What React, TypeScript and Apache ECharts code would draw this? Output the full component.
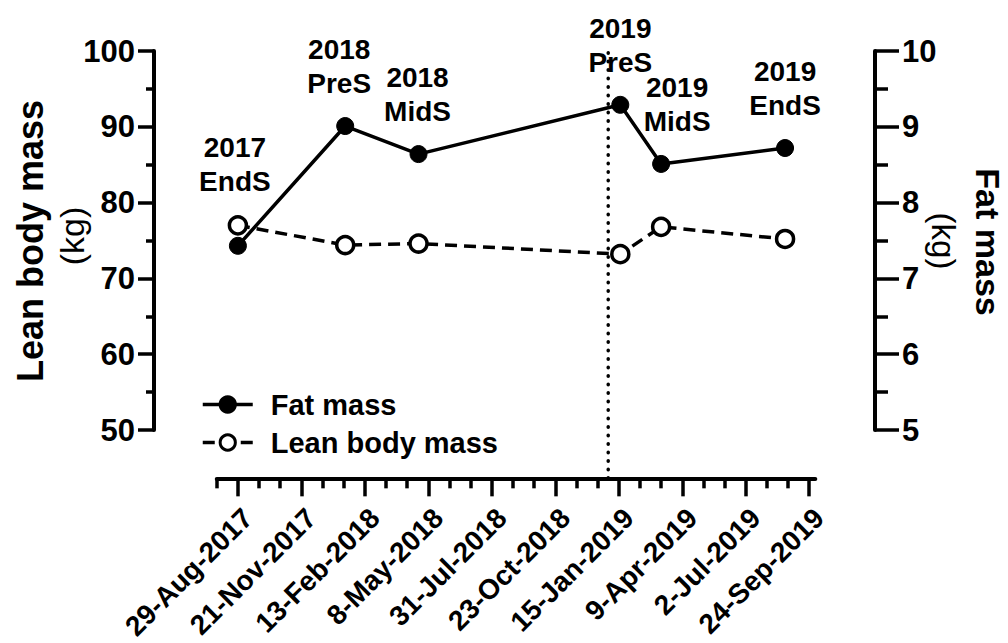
import React, { useEffect, useRef } from "react";
import * as echarts from "echarts";

// ---------- data ----------
const TICK_LABELS = [
  "29-Aug-2017", "21-Nov-2017", "13-Feb-2018", "8-May-2018", "31-Jul-2018",
  "23-Oct-2018", "15-Jan-2019", "9-Apr-2019", "2-Jul-2019", "24-Sep-2019",
];
const VISIT_DATES = ["2017-08-29", "2018-01-18", "2018-04-25", "2019-01-17", "2019-03-12", "2019-08-23"];
const VISIT_NAMES = ["2017\nEndS", "2018\nPreS", "2018\nMidS", "2019\nPreS", "2019\nMidS", "2019\nEndS"];
const FAT_MASS = [7.43, 9.01, 8.64, 9.29, 8.51, 8.72];
const LEAN_MASS = [77.0, 74.4, 74.6, 73.2, 76.8, 75.2];
const SEASON_LINE_DATE = "2019-01-01";
const AXIS_START_DATE = "2017-08-01";
const AXIS_END_DATE = "2019-10-02";

// ---------- helpers ----------
const MONTHS: Record<string, number> = {
  Jan: 0, Feb: 1, Mar: 2, Apr: 3, May: 4, Jun: 5, Jul: 6, Aug: 7, Sep: 8, Oct: 9, Nov: 10, Dec: 11,
};
const ORIGIN = Date.UTC(2017, 7, 29);
const DAY = 86400000;
function isoDay(s: string) {
  const [y, m, d] = s.split("-").map(Number);
  return Math.round((Date.UTC(y, m - 1, d) - ORIGIN) / DAY);
}
function labelDay(s: string) {
  const [d, mon, y] = s.split("-");
  return Math.round((Date.UTC(Number(y), MONTHS[mon], Number(d)) - ORIGIN) / DAY);
}

const TICK_DAYS = TICK_LABELS.map(labelDay);
const X_MIN = isoDay(AXIS_START_DATE);
const X_MAX = isoDay(AXIS_END_DATE);
const MINOR_DAYS: number[] = [];
for (let d = X_MIN; d < TICK_DAYS[TICK_DAYS.length - 1]; d += 28) {
  if (!TICK_DAYS.includes(d)) MINOR_DAYS.push(d);
}

// ---------- layout / style ----------
const FONT = "'Liberation Sans', Arial, Helvetica, sans-serif";
const PX_L = 154;
const PX_R = 875;
const TOP = 51;
const PLOT_BOTTOM = 430;
const XAXIS_Y = 492;
const MAIN_MIN = -111;
const MAIN_MAX = 843;
const PX_PER_DAY = (PX_R - PX_L) / (MAIN_MAX - MAIN_MIN);
const G1_LEFT = PX_L + (X_MIN - MAIN_MIN) * PX_PER_DAY;
const G1_WIDTH = (X_MAX - X_MIN) * PX_PER_DAY;
const LABEL_OFFSETS: [number, number][] = [[-3, -38], [-6, -17], [-1, -17], [0, -16], [16, -16], [0, -17]];

export default function App() {
  const ref = useRef<HTMLDivElement>(null);
  useEffect(() => {
    document.body.style.margin = "0";
    if (!ref.current) return;
    const chart = echarts.init(ref.current, undefined, { renderer: "svg" });

    const black = "#000";
    const fatData = VISIT_DATES.map((d, i) => ({
      value: [isoDay(d), FAT_MASS[i]],
      name: VISIT_NAMES[i],
      label: { offset: LABEL_OFFSETS[i] },
    }));
    const leanData = VISIT_DATES.map((d, i) => [isoDay(d), LEAN_MASS[i]]);
    const sl = isoDay(SEASON_LINE_DATE);

    const option: any = {
      animation: false,
      backgroundColor: "#fff",
      textStyle: { fontFamily: FONT },
      grid: [
        { left: PX_L, top: TOP, width: PX_R - PX_L, height: PLOT_BOTTOM - TOP },
        { left: G1_LEFT, top: TOP, width: G1_WIDTH, height: XAXIS_Y - TOP },
      ],
      xAxis: [
        { type: "value", gridIndex: 0, min: MAIN_MIN, max: MAIN_MAX, show: false },
        {
          type: "value",
          gridIndex: 1,
          position: "bottom",
          min: X_MIN,
          max: X_MAX,
          splitLine: { show: false },
          axisLine: { show: true, onZero: false, lineStyle: { color: black, width: 4 } },
          axisTick: {
            show: true,
            customValues: TICK_DAYS,
            length: 18,
            lineStyle: { color: black, width: 3.5 },
          },
          axisLabel: {
            show: true,
            customValues: TICK_DAYS,
            formatter: (v: number) => {
              const i = TICK_DAYS.indexOf(Math.round(v));
              return i >= 0 ? TICK_LABELS[i] : "";
            },
            rotate: 45,
            align: "right",
            verticalAlign: "top",
            margin: 25,
            fontSize: 28,
            fontWeight: "bold",
            color: black,
            fontFamily: FONT,
          },
        },
        {
          type: "value",
          gridIndex: 1,
          position: "bottom",
          min: X_MIN,
          max: X_MAX,
          splitLine: { show: false },
          axisLine: { show: false, onZero: false },
          axisLabel: { show: false },
          axisTick: {
            show: true,
            customValues: MINOR_DAYS,
            length: 10,
            lineStyle: { color: black, width: 3.5 },
          },
        },
      ],
      yAxis: [
        {
          type: "value",
          gridIndex: 0,
          position: "left",
          min: 50,
          max: 100,
          interval: 10,
          splitLine: { show: false },
          axisLine: { show: true, onZero: false, lineStyle: { color: black, width: 4 } },
          axisTick: { show: true, length: 16, lineStyle: { color: black, width: 3.5 } },
          minorTick: { show: true, splitNumber: 2, length: 8, lineStyle: { color: black, width: 3.5 } },
          axisLabel: { margin: 19, fontSize: 31, fontWeight: "bold", color: black, fontFamily: FONT },
        },
        {
          type: "value",
          gridIndex: 0,
          position: "right",
          min: 5,
          max: 10,
          interval: 1,
          splitLine: { show: false },
          axisLine: { show: true, onZero: false, lineStyle: { color: black, width: 4 } },
          axisTick: { show: true, length: 24, lineStyle: { color: black, width: 3.5 } },
          minorTick: { show: true, splitNumber: 2, length: 13, lineStyle: { color: black, width: 3.5 } },
          axisLabel: { margin: 27, fontSize: 31, fontWeight: "bold", color: black, fontFamily: FONT },
        },
        { type: "value", gridIndex: 1, min: 0, max: 1, show: false },
      ],
      legend: {
        orient: "vertical",
        left: 196,
        top: 385,
        itemWidth: 50,
        itemHeight: 19,
        itemGap: 9,
        data: ["Fat mass", "Lean body mass"],
        lineStyle: { width: 3.5 },
        itemStyle: { borderWidth: 3 },
        textStyle: { fontSize: 29, fontWeight: "bold", color: black, fontFamily: FONT, padding: [0, 0, 0, 13] },
      },
      series: [
        {
          name: "Fat mass",
          type: "line",
          xAxisIndex: 0,
          yAxisIndex: 1,
          data: fatData,
          symbol: "circle",
          symbolSize: 17,
          itemStyle: { color: black, borderColor: black },
          lineStyle: { color: black, width: 3.5 },
          label: {
            show: true,
            position: "top",
            distance: 0,
            formatter: (p: any) => p.name,
            fontSize: 28,
            lineHeight: 34,
            fontWeight: "bold",
            color: black,
            fontFamily: FONT,
            align: "center",
          },
          z: 3,
        },
        {
          name: "Lean body mass",
          type: "line",
          xAxisIndex: 0,
          yAxisIndex: 0,
          data: leanData,
          symbol: "circle",
          symbolSize: 17,
          itemStyle: { color: "#fff", borderColor: black, borderWidth: 3.5 },
          lineStyle: { color: black, width: 3.5, type: [12, 7] },
          z: 3,
        },
        {
          name: "season",
          type: "line",
          xAxisIndex: 1,
          yAxisIndex: 2,
          data: [[sl, 0], [sl, 1]],
          symbol: "none",
          lineStyle: { color: black, width: 3.5, type: [0.5, 8], cap: "round" },
          silent: true,
          z: 1,
        },
      ],
      graphic: [
        {
          type: "text",
          x: 30,
          y: 241,
          rotation: Math.PI / 2,
          style: { text: "Lean body mass", font: `bold 36px ${FONT}`, fill: black, align: "center", verticalAlign: "middle" },
        },
        {
          type: "text",
          x: 72,
          y: 236,
          rotation: Math.PI / 2,
          style: { text: "(kg)", font: `34px ${FONT}`, fill: black, align: "center", verticalAlign: "middle" },
        },
        {
          type: "text",
          x: 988,
          y: 242,
          rotation: -Math.PI / 2,
          style: { text: "Fat mass", font: `bold 34px ${FONT}`, fill: black, align: "center", verticalAlign: "middle" },
        },
        {
          type: "text",
          x: 943,
          y: 241,
          rotation: -Math.PI / 2,
          style: { text: "(kg)", font: `33px ${FONT}`, fill: black, align: "center", verticalAlign: "middle" },
        },
      ],
    };
    chart.setOption(option);
    return () => chart.dispose();
  }, []);
  return <div ref={ref} style={{ width: 1008, height: 643 }} />;
}
